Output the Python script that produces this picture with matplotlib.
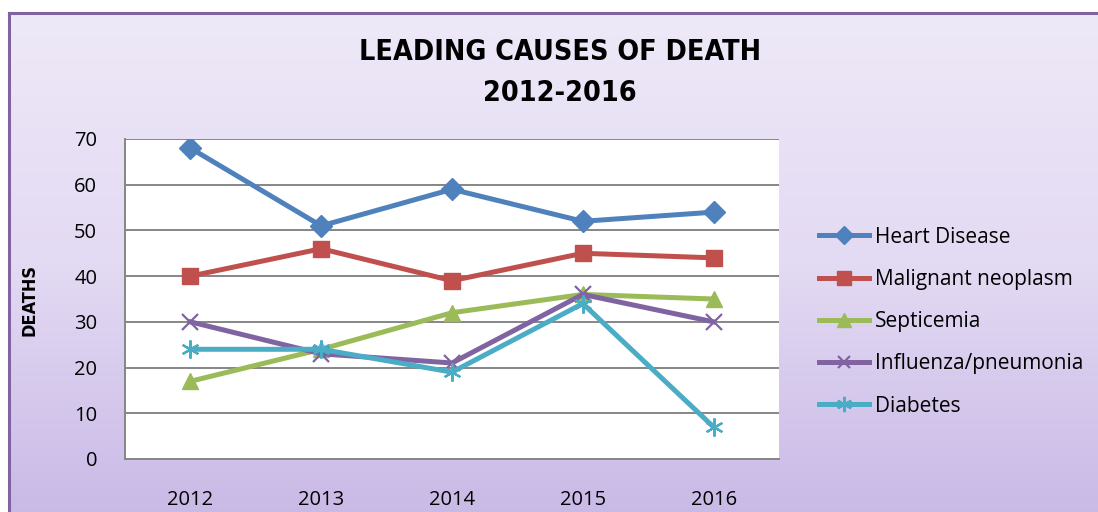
import numpy as np
import matplotlib
matplotlib.use("Agg")
import matplotlib.pyplot as plt
from matplotlib.colors import LinearSegmentedColormap

years = ["2012", "2013", "2014", "2015", "2016"]
heart = [68, 51, 59, 52, 54]
malignant = [40, 46, 39, 45, 44]
septicemia = [17, 24, 32, 36, 35]
influenza = [30, 23, 21, 36, 30]
diabetes = [24, 24, 19, 34, 7]

series = [
    ("Heart Disease", heart, "#4F81BD", "D", 11),
    ("Malignant neoplasm", malignant, "#C0504D", "s", 12),
    ("Septicemia", septicemia, "#9BBB59", "^", 12),
    ("Influenza/pneumonia", influenza, "#8064A2", "x", 11),
    ("Diabetes", diabetes, "#4BACC6", (6, 2, 0), 13),
]

plt.rcParams['font.family'] = ['Open Sans', 'DejaVu Sans']

W, H = 1098, 512
fig = plt.figure(figsize=(W / 100, H / 100), dpi=100)
fig.patch.set_facecolor("white")

# gradient background with purple border
bg = fig.add_axes([9 / W, -0.01, 1.0, (H - 13) / H + 0.01])
grad = np.linspace(0, 1, 256).reshape(-1, 1)
cmap = LinearSegmentedColormap.from_list("bg", ["#EEE9F8", "#E3DAF3", "#C9B9E6"])
bg.imshow(grad, aspect="auto", cmap=cmap, extent=[0, 1, 0, 1], origin="upper")
bg.set_xticks([])
bg.set_yticks([])
for s in bg.spines.values():
    s.set_color("#8064A2")
    s.set_linewidth(2.2)

ax = fig.add_axes([125 / W, (H - 459) / H, 654 / W, 320 / H])
ax.set_facecolor("white")
x = np.arange(len(years))
for name, vals, col, mk, ms in series:
    mew = 1.6 if mk in ("x",) or isinstance(mk, tuple) else 1
    ax.plot(x, vals, color=col, lw=3.6, marker=mk, markersize=ms,
            markeredgewidth=mew, markerfacecolor=col, markeredgecolor=col,
            label=name, solid_joinstyle="round")

ax.set_xlim(-0.5, 4.5)
ax.set_ylim(0, 70)
ax.set_yticks(range(0, 71, 10))
ax.set_xticks(x)
ax.set_xticklabels(years)
ax.yaxis.grid(True, color="#868686", lw=1.4)
ax.set_axisbelow(True)
ax.tick_params(axis="both", length=0, labelsize=14.5, colors="black")
ax.tick_params(axis="x", pad=22)
ax.tick_params(axis="y", pad=20)
for side in ("top", "right"):
    ax.spines[side].set_visible(False)
for side in ("left", "bottom"):
    ax.spines[side].set_color("#868686")
    ax.spines[side].set_linewidth(1.4)

title_font = ["Liberation Sans Narrow", "DejaVu Sans"]
fig.text(30 / W, 1 - 300 / H, "DEATHS", rotation=90, ha="center", va="center",
         fontsize=13, fontweight="bold", family=title_font, fontstretch="condensed")
fig.text(560 / W, 1 - 52 / H, "LEADING CAUSES OF DEATH", ha="center", va="center",
         fontsize=20.5, fontweight="bold", family=title_font, fontstretch="condensed")
fig.text(560 / W, 1 - 93 / H, "2012-2016", ha="center", va="center",
         fontsize=20.5, fontweight="bold", family=title_font, fontstretch="condensed")

leg = fig.legend(loc="upper left", bbox_to_anchor=(800 / W, 1 - 208 / H),
                 frameon=False, fontsize=15, handlelength=2.4, handletextpad=0.3,
                 labelspacing=1.02, markerscale=0.85)

fig.savefig("out.png", dpi=100)
